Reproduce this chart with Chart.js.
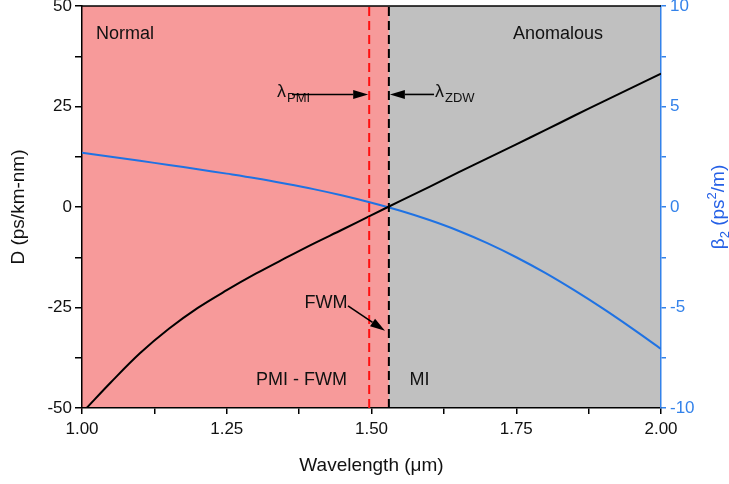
<!DOCTYPE html>
<html><head><meta charset="utf-8">
<script src="https://cdn.jsdelivr.net/npm/chart.js@4.4.1/dist/chart.umd.min.js"></script>
<style>html,body{margin:0;padding:0;background:#fff}#wrap{width:729px;height:484px;position:relative}</style>
</head><body><div id="wrap"><canvas id="c" width="729" height="484"></canvas></div>
<script>
// ---- data ----
const wavelengthD = [1.008, 1.05, 1.10, 1.15, 1.20, 1.25, 1.30, 1.35, 1.40, 1.45, 1.50, 1.55, 1.60, 1.65, 1.70, 1.75, 1.80, 1.85, 1.90, 1.95, 2.00];
const dispersionD = [-50.0, -43.6, -36.4, -30.3, -25.1, -20.7, -16.6, -12.8, -9.1, -5.6, -2.0, 1.5, 5.0, 8.6, 12.1, 15.6, 19.1, 22.7, 26.2, 29.7, 33.2];
const wavelengthB = [1.00, 1.05, 1.10, 1.15, 1.20, 1.25, 1.30, 1.35, 1.40, 1.45, 1.50, 1.55, 1.60, 1.65, 1.70, 1.75, 1.80, 1.85, 1.90, 1.95, 2.00];
const beta2       = [2.70, 2.50, 2.30, 2.09, 1.88, 1.66, 1.43, 1.17, 0.89, 0.57, 0.21, -0.19, -0.65, -1.18, -1.80, -2.50, -3.28, -4.14, -5.06, -6.04, -7.06];
const lambdaPMI = 1.496;
const lambdaZDW = 1.53;
const xTickLabels = ['1.00', '1.25', '1.50', '1.75', '2.00'];
const dTickLabels = ['-50', '-25', '0', '25', '50'];
const bTickLabels = ['-10', '-5', '0', '5', '10'];

const FONT = '"Liberation Sans", Arial, sans-serif';
const PINK = '#F79A9A', GREY = '#C0C0C0', BLUE = '#1F72E3', BLUE_AX = '#3382EA', BLUE_T = '#2560E6';

function pickLabel(list) {
  return v => { const f = list.find(s => Math.abs(parseFloat(s) - v) < 1e-9); return f === undefined ? '' : f; };
}

const deco = {
  id: 'deco',
  beforeDraw(chart) {
    const { ctx, chartArea: a, scales: { x } } = chart;
    const xz = x.getPixelForValue(lambdaZDW);
    ctx.save();
    ctx.fillStyle = PINK; ctx.fillRect(a.left, a.top, xz - a.left, a.bottom - a.top);
    ctx.fillStyle = GREY; ctx.fillRect(xz, a.top, a.right - xz, a.bottom - a.top);
    ctx.restore();
  },
  afterDatasetsDraw(chart) {
    const { ctx, scales: { x, y } } = chart;
    const X = v => x.getPixelForValue(v), Y = v => y.getPixelForValue(v);
    ctx.save();
    ctx.fillStyle = '#111'; ctx.strokeStyle = '#000';
    ctx.textBaseline = 'middle';
    ctx.font = '18px ' + FONT;
    ctx.textAlign = 'left'; ctx.fillText('Normal', X(1.024), Y(43));
    ctx.textAlign = 'center'; ctx.fillText('Anomalous', X(1.822), Y(43));
    ctx.fillText('FWM', X(1.4214), Y(-23.9));
    ctx.fillText('PMI - FWM', X(1.379), Y(-43));
    ctx.fillText('MI', X(1.583), Y(-43));
    function lam(x0, yb, sub) {
      ctx.textBaseline = 'alphabetic'; ctx.textAlign = 'left';
      ctx.font = '18px ' + FONT;
      ctx.fillText('λ', x0, yb);
      const w = ctx.measureText('λ').width;
      ctx.font = '13px ' + FONT;
      ctx.fillText(sub, x0 + w + 1, yb + 5);
    }
    lam(X(1.3368), Y(27.4), 'PMI');
    lam(X(1.6097), Y(27.4), 'ZDW');
    function arrow(x1, y1, x2, y2) {
      const ang = Math.atan2(y2 - y1, x2 - x1), L = 15, H = 4.5;
      const bx = x2 - L * Math.cos(ang), by = y2 - L * Math.sin(ang);
      ctx.lineWidth = 1.6;
      ctx.beginPath(); ctx.moveTo(x1, y1); ctx.lineTo(bx, by); ctx.stroke();
      ctx.beginPath(); ctx.moveTo(x2, y2);
      ctx.lineTo(bx + H * Math.sin(ang), by - H * Math.cos(ang));
      ctx.lineTo(bx - H * Math.sin(ang), by + H * Math.cos(ang));
      ctx.closePath(); ctx.fillStyle = '#000'; ctx.fill();
    }
    arrow(X(1.3627), Y(28.0), X(lambdaPMI) - 1, Y(28.0));
    arrow(X(1.608), Y(28.0), X(lambdaZDW) + 1, Y(28.0));
    arrow(X(1.4594), Y(-24.6), X(1.5233), Y(-30.8));
    ctx.restore();
  },
  afterDraw(chart) {
    const { ctx, chartArea: a } = chart;
    ctx.save();
    ctx.strokeStyle = '#000'; ctx.lineWidth = 1.5;
    ctx.beginPath(); ctx.moveTo(a.left, a.top); ctx.lineTo(a.right, a.top); ctx.stroke();
    const parts = [
      { t: 'β', s: 19, dy: 0 }, { t: '2', s: 13, dy: 5 }, { t: ' (ps', s: 19, dy: 0 },
      { t: '2', s: 13, dy: -8 }, { t: '/m)', s: 19, dy: 0 }
    ];
    let tot = 0;
    parts.forEach(p => { ctx.font = p.s + 'px ' + FONT; p.w = ctx.measureText(p.t).width; tot += p.w; });
    ctx.translate(717, (a.top + a.bottom) / 2);
    ctx.rotate(-Math.PI / 2);
    ctx.fillStyle = BLUE_T; ctx.textBaseline = 'alphabetic'; ctx.textAlign = 'left';
    let cx = -tot / 2;
    parts.forEach(p => { ctx.font = p.s + 'px ' + FONT; ctx.fillText(p.t, cx, 7 + p.dy); cx += p.w; });
    ctx.restore();
  }
};

const ptsD = wavelengthD.map((w, i) => ({ x: w, y: dispersionD[i] }));
const ptsB = wavelengthB.map((w, i) => ({ x: w, y: beta2[i] }));

new Chart(document.getElementById('c'), {
  type: 'line',
  data: {
    datasets: [
      { data: [{ x: lambdaPMI, y: -50 }, { x: lambdaPMI, y: 50 }], yAxisID: 'y', borderColor: '#FF1010', borderWidth: 2, borderDash: [9, 5], pointRadius: 0 },
      { data: [{ x: lambdaZDW, y: -50 }, { x: lambdaZDW, y: 50 }], yAxisID: 'y', borderColor: '#000', borderWidth: 2, borderDash: [9, 5], pointRadius: 0 },
      { data: ptsD, yAxisID: 'y', borderColor: '#000', borderWidth: 2, pointRadius: 0, tension: 0.35 },
      { data: ptsB, yAxisID: 'y2', borderColor: BLUE, borderWidth: 2, pointRadius: 0, tension: 0.35 }
    ]
  },
  options: {
    responsive: false, animation: false, devicePixelRatio: 1,
    layout: { padding: { top: 6, left: 0, right: 0, bottom: 0 } },
    plugins: { legend: { display: false }, tooltip: { enabled: false } },
    scales: {
      x: {
        type: 'linear', min: 1, max: 2,
        afterFit: s => { s.height = 76; s.paddingLeft = 0; s.paddingRight = 0; },
        ticks: { stepSize: 0.125, autoSkip: false, maxRotation: 0, color: '#111', font: { family: FONT, size: 17 }, padding: 5, callback: pickLabel(xTickLabels) },
        grid: { drawOnChartArea: false, drawTicks: true, tickLength: 6, color: '#000', lineWidth: 1.5 },
        border: { display: true, color: '#000', width: 1.5 },
        title: { display: true, text: 'Wavelength (μm)', color: '#111', font: { family: FONT, size: 19 }, padding: { top: 0, bottom: 7 } }
      },
      y: {
        position: 'left', min: -50, max: 50,
        afterFit: s => { s.width = 82; s.paddingTop = 0; s.paddingBottom = 0; },
        ticks: { stepSize: 12.5, autoSkip: false, color: '#111', font: { family: FONT, size: 17 }, padding: 3, callback: pickLabel(dTickLabels) },
        grid: { drawOnChartArea: false, drawTicks: true, tickLength: 7, color: '#000', lineWidth: 1.5 },
        border: { display: true, color: '#000', width: 1.5 },
        title: { display: true, text: 'D (ps/km-nm)', color: '#111', font: { family: FONT, size: 19 }, padding: { top: 7, bottom: 0 } }
      },
      y2: {
        position: 'right', min: -10, max: 10,
        afterFit: s => { s.width = 68; s.paddingTop = 0; s.paddingBottom = 0; },
        ticks: { stepSize: 2.5, autoSkip: false, color: BLUE_AX, font: { family: FONT, size: 17 }, padding: 4, callback: pickLabel(bTickLabels) },
        grid: { drawOnChartArea: false, drawTicks: true, tickLength: 5, color: BLUE_AX, lineWidth: 1.5 },
        border: { display: true, color: BLUE_AX, width: 1.5 }
      }
    }
  },
  plugins: [deco]
});
</script>
</body></html>
